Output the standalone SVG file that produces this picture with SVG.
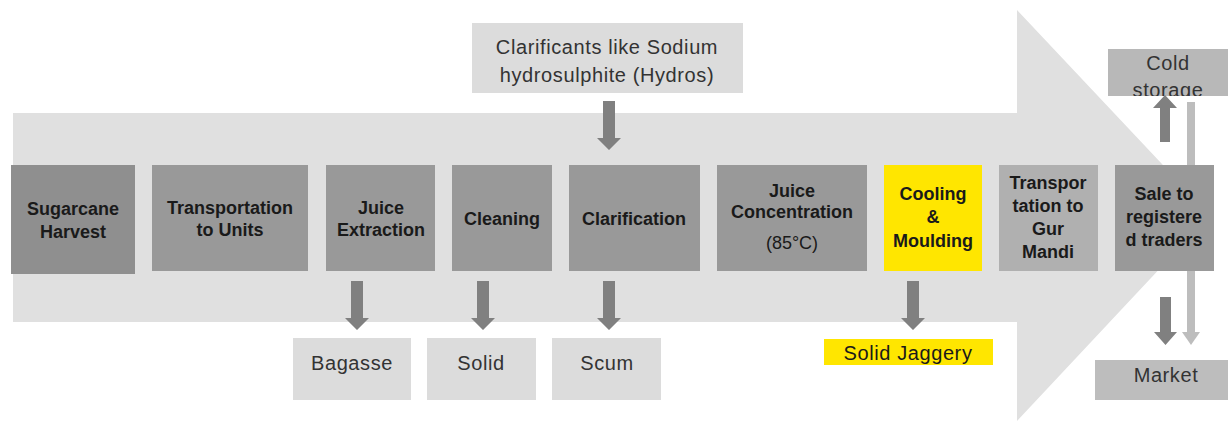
<svg xmlns="http://www.w3.org/2000/svg" width="1230" height="421" viewBox="0 0 1230 421">
<style>
.step{fill:#999999}
.out{fill:#dcdcdc}
.b{font-family:"Liberation Sans",Arial,sans-serif;font-weight:bold;font-size:18px;fill:#1a1a1a;text-anchor:middle}
.r{font-family:"Liberation Sans",Arial,sans-serif;font-size:20px;fill:#333333;text-anchor:middle;letter-spacing:0.6px}
.ar{fill:#808080}
</style>
<rect width="1230" height="421" fill="#ffffff"/>
<g id="flow-arrow">
<polygon points="13,113 1017,113 1017,10 1210,215 1017,421 1017,322 13,322" fill="#e0e0e0"/>
</g>
<g id="connectors">
<rect x="1187" y="102" width="8" height="232" fill="#bdbdbd"/>
<polygon points="1182,332 1200,332 1191,345" fill="#bdbdbd"/>
<path class="ar" d="M603,101h12v37h6l-12,12l-12,-12h6z"/>
<path class="ar" d="M351,281h12v37h6l-12,12l-12,-12h6z"/>
<path class="ar" d="M477,281h12v37h6l-12,12l-12,-12h6z"/>
<path class="ar" d="M603,281h12v37h6l-12,12l-12,-12h6z"/>
<path class="ar" d="M907,281h12v37h6l-12,12l-12,-12h6z"/>
<path class="ar" d="M1160,297h11v35h6l-11.5,13l-11.5,-13h6z"/>
</g>
<g id="n-harvest"><rect x="11" y="165" width="124" height="109" fill="#8f8f8f"/><text class="b" x="73" y="215">Sugarcane</text><text class="b" x="73" y="238">Harvest</text></g>
<g id="n-transport"><rect class="step" x="152" y="165" width="156" height="106"/><text class="b" x="230" y="214">Transportation</text><text class="b" x="230" y="236">to Units</text></g>
<g id="n-extraction"><rect class="step" x="326" y="165" width="109" height="106"/><text class="b" x="381" y="214">Juice</text><text class="b" x="381" y="236">Extraction</text></g>
<g id="n-cleaning"><rect class="step" x="452" y="165" width="100" height="106"/><text class="b" x="502" y="225">Cleaning</text></g>
<g id="n-clarification"><rect class="step" x="569" y="165" width="131" height="106"/><text class="b" x="634" y="225">Clarification</text></g>
<g id="n-concentration"><rect class="step" x="717" y="165" width="150" height="106"/><text class="b" x="792" y="197">Juice</text><text class="b" x="792" y="218">Concentration</text><text class="b" x="792" y="249" style="font-weight:normal">(85°C)</text></g>
<g id="n-cooling"><rect x="884" y="165" width="98" height="106" fill="#ffe600"/><text class="b" x="933" y="200">Cooling</text><text class="b" x="933" y="223">&amp;</text><text class="b" x="933" y="247">Moulding</text></g>
<g id="n-gurmandi"><rect x="999" y="165" width="99" height="106" fill="#b0b0b0"/><text class="b" x="1048" y="189">Transpor</text><text class="b" x="1048" y="212">tation to</text><text class="b" x="1048" y="235">Gur</text><text class="b" x="1048" y="258">Mandi</text></g>
<g id="n-sale"><rect class="step" x="1115" y="165" width="99" height="106"/><text class="b" x="1164" y="200">Sale to</text><text class="b" x="1164" y="223">registere</text><text class="b" x="1164" y="246">d traders</text></g>
<g id="n-clarificants"><rect class="out" x="472" y="23" width="271" height="70"/><text class="r" x="607" y="54">Clarificants like Sodium</text><text class="r" x="607" y="82">hydrosulphite (Hydros)</text></g>
<g id="n-bagasse"><rect class="out" x="293" y="338" width="118" height="62"/><text class="r" x="352" y="370">Bagasse</text></g>
<g id="n-solid"><rect class="out" x="427" y="338" width="109" height="62"/><text class="r" x="481" y="370">Solid</text></g>
<g id="n-scum"><rect class="out" x="552" y="338" width="109" height="62"/><text class="r" x="607" y="370">Scum</text></g>
<g id="n-jaggery"><rect x="824" y="339" width="169" height="26" fill="#ffe600"/><text class="r" x="908" y="360" style="fill:#1a1a1a">Solid Jaggery</text></g>
<clipPath id="cold-clip"><rect x="1108" y="49" width="120" height="47"/></clipPath>
<g id="n-cold"><rect x="1108" y="49" width="120" height="47" fill="#b8b8b8"/><g clip-path="url(#cold-clip)"><text class="r" x="1168" y="70">Cold</text><text class="r" x="1168" y="97">storage</text></g></g>
<g id="n-market"><rect x="1095" y="360" width="133" height="40" fill="#bdbdbd"/><text class="r" x="1166" y="382">Market</text></g>
<g id="up-arrow"><path class="ar" d="M1160,142v-34h-7l12,-13l12,13h-7v34z"/></g>
</svg>
